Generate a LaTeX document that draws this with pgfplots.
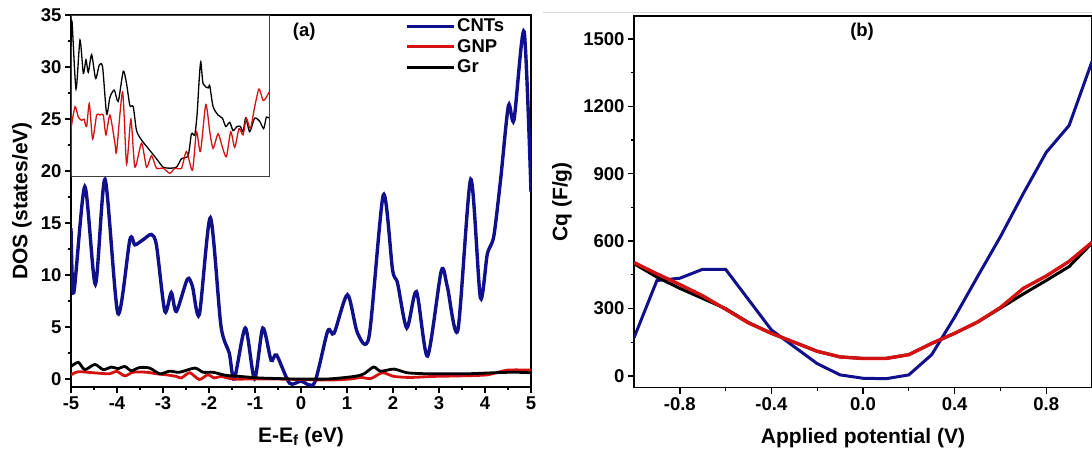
\documentclass[border=0pt]{standalone}
\usepackage{pgfplots}
\pgfplotsset{compat=1.18}
\usepackage{fontspec}
\setmainfont{Liberation Sans}
\definecolor{cntblue}{RGB}{16,16,140}
\definecolor{gnpred}{RGB}{212,18,18}
\definecolor{sepgrey}{RGB}{215,215,215}
\pgfplotsset{
  mystyle/.style={
    scale only axis,
    axis line style={line width=1.6pt},
    tick align=outside,
    tick pos=left,
    major tick length=6pt,
    minor tick length=3.5pt,
    major tick style={line width=1.4pt,black},
    minor tick style={line width=1.2pt,black},
    minor tick num=1,
    tick label style={font=\bfseries\fontsize{18.5}{18.5}\selectfont},
    /pgf/number format/assume math mode=true,
    /pgf/number format/1000 sep={},
    clip=true,
  }
}
\begin{document}
\begin{tikzpicture}[x=1pt,y=1pt]
\useasboundingbox (0,0) rectangle (1092,452);
\draw[sepgrey,line width=1pt] (543,439.3) -- (1092,439.3);
% ---------------- Panel (a) ----------------
\begin{axis}[mystyle,
  at={(71pt,65pt)}, anchor=south west,
  width=460pt, height=372pt,
  xmin=-5, xmax=5, ymin=-0.77, ymax=35,
  xtick={-5,-4,...,5}, ytick={0,5,...,35},
  xlabel={E-E\textsubscript{f} (eV)},
  ylabel={DOS (states/eV)},
  every axis x label/.style={at={(axis description cs:0.5,0)},yshift=-50pt,anchor=center,font=\bfseries\fontsize{21}{21}\selectfont},
  every axis y label/.style={at={(axis description cs:0,0.5)},xshift=-49pt,rotate=90,anchor=center,font=\bfseries\fontsize{21}{21}\selectfont},
  legend style={draw=none,fill=none,at={(axis description cs:0.726,0.995)},anchor=north west,
     font=\bfseries\fontsize{18.5}{18.5}\selectfont,inner sep=0pt,row sep=2pt},
  legend cell align=left,
  legend image code/.code={\draw[#1,line width=3pt] (0pt,0pt) -- (47pt,0pt);},
]
\addplot[cntblue,line width=3.4pt,smooth,tension=0.45] coordinates {
(-5,14.5) (-4.94,8.3) (-4.70,18.5) (-4.47,9.1) (-4.26,19.2) (-3.98,6.3) (-3.72,13.4) (-3.61,12.9) (-3.43,13.4) (-3.25,13.9) (-3.14,12.8) (-2.96,6.5) (-2.82,8.3) (-2.71,6.5) (-2.47,9.6) (-2.36,8.9) (-2.21,6.2) (-1.97,15.5) (-1.74,5.1) (-1.56,2.5) (-1.45,0) (-1.21,4.9) (-1.01,0) (-0.83,4.9) (-0.65,1.8) (-0.53,2.3) (-0.25,-0.4) (0,-0.2) (0.29,-0.4) (0.58,4.6) (0.72,4.4) (1.01,8.1) (1.23,4.4) (1.48,4.1) (1.79,17.7) (1.99,10.5) (2.10,9.2) (2.30,4.9) (2.51,8.4) (2.75,2.2) (3.05,10.4) (3.18,8.9) (3.41,4.7) (3.69,19.2) (3.90,7.8) (4.05,12.0) (4.19,13.7) (4.34,19.2) (4.51,26.3) (4.63,24.9) (4.85,33.4) (5,18)
};
\addlegendentry{CNTs}
\addplot[gnpred,line width=2.8pt,smooth,tension=0.45] coordinates {
(-5,0.4) (-4.84,0.7) (-4.52,0.6) (-4.16,0.5) (-4.01,0.75) (-3.83,0.3) (-3.65,0.65) (-3.36,0.65) (-3.14,0.5) (-2.93,0.4) (-2.71,0.25) (-2.60,0.1) (-2.42,0.6) (-2.21,-0.05) (-2.03,0.4) (-1.88,0.1) (-1.74,0.25) (-1.48,0) (-1.05,0) (-0.55,0) (0.58,-0.1) (1.08,0) (1.30,0.15) (1.52,0.05) (1.77,0.6) (2.02,0.25) (2.38,0.15) (2.89,0.25) (3.47,0.3) (4.05,0.4) (4.48,0.85) (5,0.85)
};
\addlegendentry{GNP}
\addplot[black,line width=2.8pt,smooth,tension=0.45] coordinates {
(-5,1.2) (-4.84,1.6) (-4.70,0.9) (-4.48,1.4) (-4.30,0.9) (-4.12,1.15) (-3.98,1.0) (-3.83,1.2) (-3.69,0.8) (-3.51,1.1) (-3.29,1.05) (-3.07,0.5) (-2.86,0.75) (-2.64,0.65) (-2.31,1.05) (-2.13,0.65) (-1.92,0.65) (-1.63,0.35) (-1.34,0.25) (-0.91,0.1) (-0.55,0.05) (-0.14,0) (0.58,0) (1.16,0.25) (1.37,0.5) (1.58,1.15) (1.73,0.75) (2.02,0.95) (2.31,0.6) (2.75,0.5) (3.18,0.5) (3.61,0.5) (4.19,0.6) (4.62,0.65) (5,0.6)
};
\addlegendentry{Gr}
\node[font=\bfseries\fontsize{18.5}{18.5}\selectfont] at (axis description cs:0.507,0.954) {(a)};
\end{axis}
% ---------------- Inset ----------------
\begin{axis}[
  scale only axis,
  at={(71pt,276pt)}, anchor=south west,
  width=198pt, height=161pt,
  xmin=213, xmax=808, ymin=19.55, ymax=35,
  ticks=none,
  axis line style={line width=0.8pt,black!75},
  axis background/.style={fill=white},
]
\addplot[black,line width=1.3pt,smooth,tension=0.4] coordinates {
(213,32.0) (216,34.4) (228,27.9) (240,32.6) (250,29.4) (258,30.7) (265,29.5) (275,31.2) (287,28.9) (298,30.2) (308,30.0) (320,25.5) (330,27.1) (343,27.8) (355,26.7) (370,29.6) (380,28.4) (390,26.3) (400,26.2) (410,23.9) (425,23.0) (450,22.0) (470,21.2) (490,20.4) (510,20.3) (530,20.4) (545,21.2) (565,21.5) (575,23.6) (585,23.5) (592,25.5) (598,28.7) (603,30.5) (610,28.4) (625,28.0) (630,28.2) (640,26.2) (655,25.4) (668,25.1) (678,24.3) (690,24.7) (700,23.9) (712,24.3) (722,24.3) (730,23.8) (738,25.1) (750,23.8) (765,25.1) (780,24.8) (792,24.1) (800,25.2) (808,25.1)
};
\addplot[gnpred,line width=1.3pt,smooth,tension=0.4] coordinates {
(213,24.1) (225,26.2) (235,25.2) (245,24.9) (252,25.0) (260,24.3) (268,26.5) (278,23.1) (290,25.4) (300,25.4) (310,25.4) (318,23.5) (330,25.4) (345,22.7) (350,21.9) (368,27.6) (380,20.7) (393,25.0) (405,20.4) (425,22.7) (440,20.4) (455,21.5) (470,20.3) (490,20.3) (510,19.8) (525,20.3) (545,20.3) (560,21.9) (578,20.1) (590,23.8) (602,21.9) (618,26.4) (630,23.8) (640,22.2) (655,23.6) (668,22.3) (680,21.4) (693,23.8) (705,22.3) (718,24.1) (730,23.5) (740,25.1) (752,24.1) (765,26.2) (778,27.9) (790,26.8) (800,27.1) (808,27.6)
};
\end{axis}
% ---------------- Panel (b) ----------------
\begin{axis}[mystyle,
  at={(634pt,64.3pt)}, anchor=south west,
  width=458pt, height=371.7pt,
  xmin=-1, xmax=1, ymin=-52, ymax=1602,
  xtick={-0.8,-0.4,0,0.4,0.8}, ytick={0,300,...,1500},
  xticklabel style={/pgf/number format/.cd,fixed,fixed zerofill,precision=1},
  xlabel={Applied potential (V)},
  ylabel={Cq (F/g)},
  every axis x label/.style={at={(axis description cs:0.5,0)},yshift=-50pt,anchor=center,font=\bfseries\fontsize{21}{21}\selectfont},
  every axis y label/.style={at={(axis description cs:0,0.5)},xshift=-72pt,rotate=90,anchor=center,font=\bfseries\fontsize{21}{21}\selectfont},
]
\addplot[cntblue,line width=3pt] coordinates {
(-1,170) (-0.9,425) (-0.8,435) (-0.7,475) (-0.6,475) (-0.5,340) (-0.4,205) (-0.3,130) (-0.2,55) (-0.1,5) (0,-10) (0.1,-12) (0.2,5) (0.3,95) (0.4,262) (0.5,442) (0.6,620) (0.7,812) (0.8,995) (0.9,1115) (1.0,1400)
};
\addplot[black,line width=3pt] coordinates {
(-1,500) (-0.9,440) (-0.8,390) (-0.7,345) (-0.6,300) (-0.5,238) (-0.4,190) (-0.3,150) (-0.2,110) (-0.1,85) (0,78) (0.1,78) (0.2,95) (0.3,145) (0.4,190) (0.5,240) (0.6,302) (0.7,365) (0.8,425) (0.9,487) (1.0,592)
};
\addplot[gnpred,line width=3.4pt] coordinates {
(-1,505) (-0.9,455) (-0.8,407) (-0.7,357) (-0.6,297) (-0.5,236) (-0.4,190) (-0.3,150) (-0.2,110) (-0.1,85) (0,78) (0.1,78) (0.2,95) (0.3,145) (0.4,190) (0.5,240) (0.6,305) (0.7,390) (0.8,445) (0.9,510) (1.0,595)
};
\node[font=\bfseries\fontsize{18.5}{18.5}\selectfont] at (axis description cs:0.498,0.957) {(b)};
\end{axis}
\end{tikzpicture}
\end{document}
